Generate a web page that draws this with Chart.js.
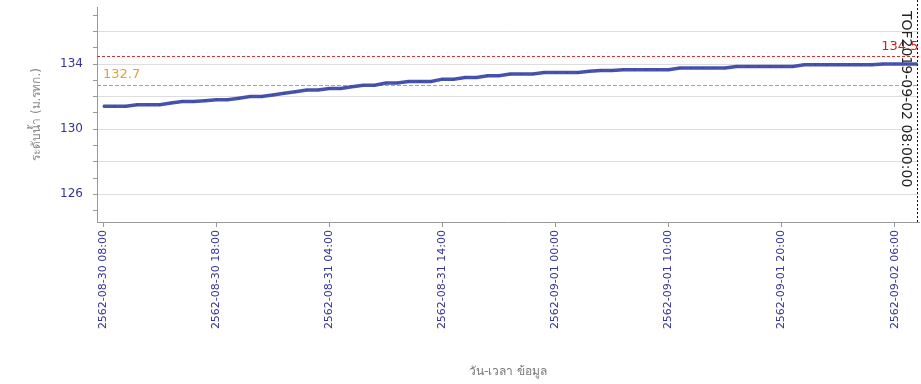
<!DOCTYPE html>
<html>
<head>
<meta charset="utf-8">
<script src="https://cdn.jsdelivr.net/npm/chart.js@4"></script>
<style>
  body { margin: 0; background: #fff; }
</style>
</head>
<body>
<canvas id="levelChart" width="921" height="384"></canvas>
<script>
// hourly water level, from 2562-08-30 08:00 to 2562-09-02 08:00
const levels = [
    131.4, 131.4, 131.4, 131.5, 131.5, 131.5, 131.6, 131.7, 131.7, 131.75,
    131.8, 131.8, 131.9, 132.0, 132.0, 132.1, 132.2, 132.3, 132.4, 132.4,
    132.5, 132.5, 132.6, 132.7, 132.7, 132.83, 132.83, 132.93, 132.93, 132.93,
    133.07, 133.07, 133.17, 133.17, 133.28, 133.28, 133.38, 133.38, 133.38, 133.48,
    133.48, 133.48, 133.48, 133.55, 133.6, 133.6, 133.65, 133.65, 133.65, 133.65,
    133.65, 133.75, 133.75, 133.75, 133.75, 133.75, 133.85, 133.85, 133.85, 133.85,
    133.85, 133.85, 133.95, 133.95, 133.95, 133.95, 133.95, 133.95, 133.95, 134.0,
    134.0, 134.0, 134.0
];
const tickHours = [0, 10, 20, 30, 40, 50, 60, 70];
const tickLabels = [
    "2562-08-30 08:00", "2562-08-30 18:00", "2562-08-31 04:00", "2562-08-31 14:00",
    "2562-09-01 00:00", "2562-09-01 10:00", "2562-09-01 20:00", "2562-09-02 06:00"
];
const yTicks = [125, 126, 127, 128, 129, 130, 131, 132, 133, 134, 135, 136, 137];
const yLabels = [126, 130, 134];

const bankLevel = 134.5;
const warnLevel = 132.7;
const tofHour = 72;
const tofLabel = "TOF2019-09-02 08:00:00";

const fontFamily = "Tahoma, 'DejaVu Sans', sans-serif";
const navy = "#333399";

const refLines = {
    id: "refLines",
    beforeDatasetsDraw(chart) {
        const {ctx, chartArea, scales} = chart;
        const yBank = Math.round(scales.y.getPixelForValue(bankLevel)) + 0.5;
        const yWarn = Math.round(scales.y.getPixelForValue(warnLevel)) + 0.5;
        const xTof = Math.round(scales.x.getPixelForValue(tofHour)) + 0.5;

        ctx.save();
        ctx.lineWidth = 1;
        ctx.setLineDash([3, 2]);

        ctx.strokeStyle = "#cc3333";
        ctx.beginPath();
        ctx.moveTo(chartArea.left, yBank);
        ctx.lineTo(chartArea.right, yBank);
        ctx.stroke();

        ctx.strokeStyle = "#e8981a";
        ctx.setLineDash([4, 2]);
        ctx.beginPath();
        ctx.moveTo(chartArea.left, yWarn);
        ctx.lineTo(chartArea.right, yWarn);
        ctx.stroke();

        ctx.strokeStyle = "#111";
        ctx.setLineDash([2, 2]);
        ctx.beginPath();
        ctx.moveTo(xTof, 0);
        ctx.lineTo(xTof, chartArea.bottom);
        ctx.stroke();

        ctx.setLineDash([]);
        ctx.font = "13px " + fontFamily;
        ctx.textBaseline = "bottom";
        ctx.fillStyle = "#cc2222";
        ctx.textAlign = "right";
        ctx.fillText(String(bankLevel), xTof + 1, yBank - 3);
        ctx.fillStyle = "#e6a02e";
        ctx.textAlign = "left";
        ctx.fillText(String(warnLevel), chartArea.left + 6, yWarn - 4);

        ctx.translate(xTof - 12, 11);
        ctx.rotate(Math.PI / 2);
        ctx.font = "14px " + fontFamily;
        ctx.fillStyle = "#222";
        ctx.textAlign = "left";
        ctx.textBaseline = "middle";
        ctx.fillText(tofLabel, 0, 0);
        ctx.restore();
    }
};

new Chart(document.getElementById("levelChart"), {
    type: "line",
    data: {
        datasets: [{
            label: "ระดับน้ำ",
            data: levels.map((v, i) => ({x: i, y: v})),
            borderColor: "#4653ad",
            borderWidth: 3.5,
            pointRadius: 0.8,
            pointHoverRadius: 0,
            pointBorderWidth: 0,
            pointBackgroundColor: "#34409a",
            tension: 0
        }]
    },
    options: {
        responsive: false,
        animation: false,
        layout: {padding: {top: 7, right: 2, left: 0, bottom: 0}},
        plugins: {legend: {display: false}, tooltip: {enabled: false}},
        scales: {
            x: {
                type: "linear",
                min: -0.55,
                max: 72.15,
                afterBuildTicks: (scale) => {
                    scale.ticks = tickHours.map(v => ({value: v}));
                },
                afterFit: (scale) => {
                    scale.height = 162;
                    scale.paddingLeft = 0;
                    scale.paddingRight = 0;
                },
                ticks: {
                    autoSkip: false,
                    minRotation: 90,
                    maxRotation: 90,
                    padding: 3,
                    color: navy,
                    font: {family: fontFamily, size: 11},
                    callback: (v) => tickLabels[tickHours.indexOf(v)]
                },
                grid: {drawOnChartArea: false, tickLength: 5, tickColor: "#999"},
                border: {color: "#999"},
                title: {
                    display: true,
                    text: "วัน-เวลา ข้อมูล",
                    color: "#777",
                    font: {family: fontFamily, size: 12},
                    padding: {top: 4, bottom: 5}
                }
            },
            y: {
                min: 124.3,
                max: 137.5,
                afterBuildTicks: (scale) => {
                    scale.ticks = yTicks.map(v => ({value: v}));
                },
                afterFit: (scale) => {
                    scale.width = 97;
                    scale.paddingTop = 0;
                    scale.paddingBottom = 0;
                },
                ticks: {
                    autoSkip: false,
                    padding: 10,
                    color: navy,
                    font: {family: fontFamily, size: 12},
                    callback: (v) => yLabels.includes(v) ? String(v) : ""
                },
                grid: {
                    color: (c) => c.tick && c.tick.value % 2 === 0 ? "#dddddd" : "rgba(0,0,0,0)",
                    tickColor: "#999",
                    tickLength: 4
                },
                border: {color: "#999"},
                title: {
                    display: true,
                    text: "ระดับน้ำ (ม.รทก.)",
                    color: "#888",
                    font: {family: fontFamily, size: 12},
                    padding: {top: 30, bottom: 0}
                }
            }
        }
    },
    plugins: [refLines]
});
</script>
</body>
</html>
